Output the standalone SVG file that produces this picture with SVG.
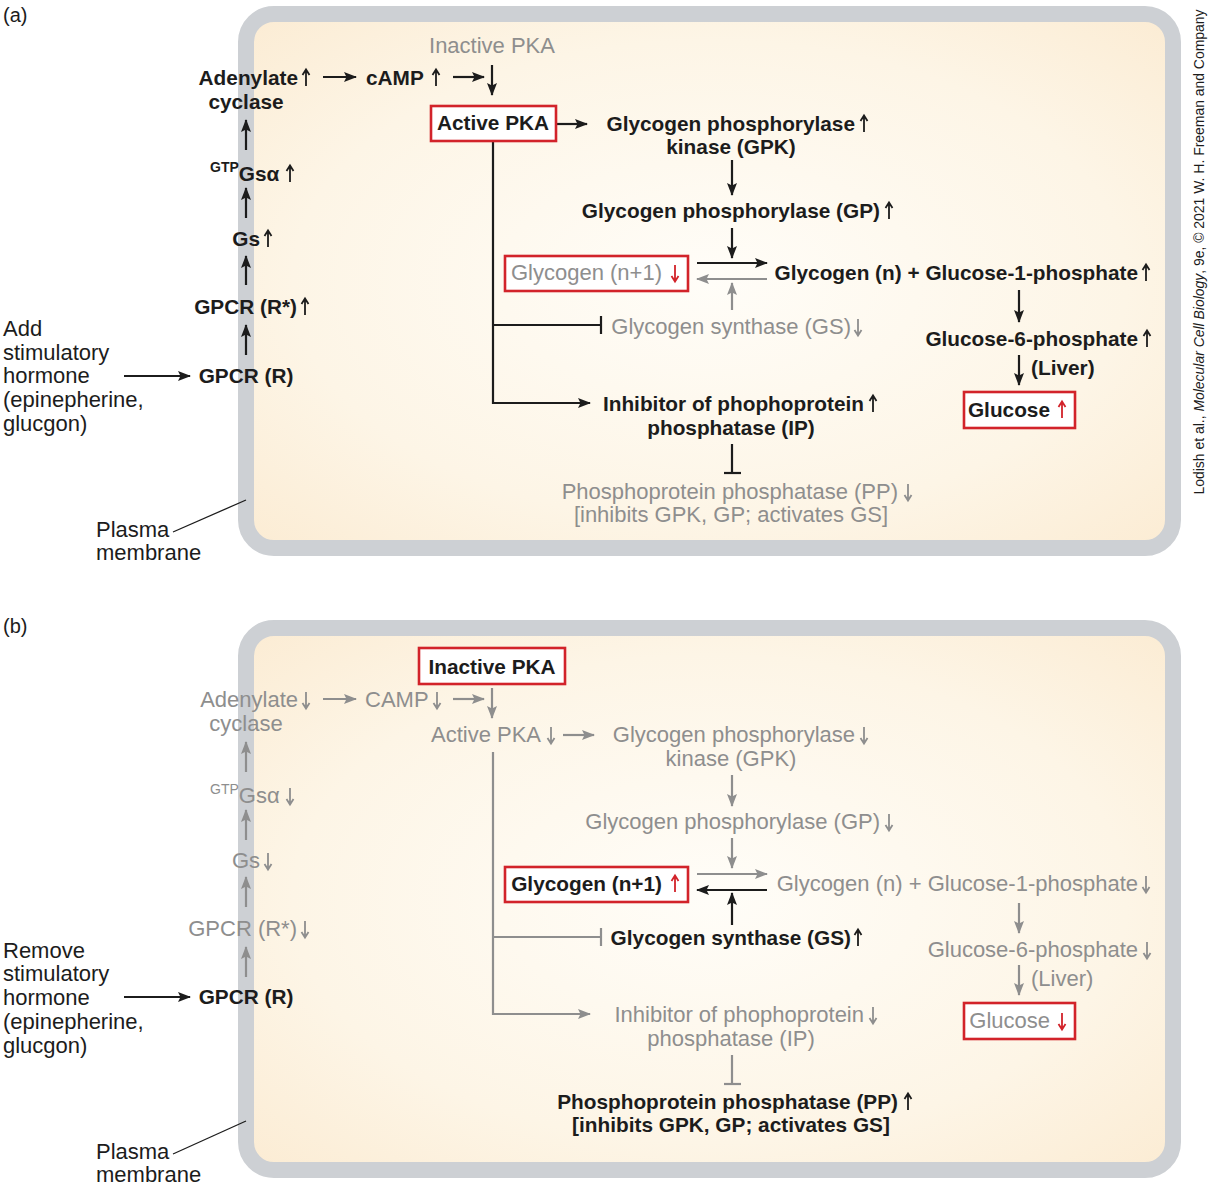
<svg xmlns="http://www.w3.org/2000/svg" xmlns:xlink="http://www.w3.org/1999/xlink" width="1209" height="1186" viewBox="0 0 1209 1186">
<style>
text{font-family:"Liberation Sans",Arial,sans-serif}
.b{font-weight:bold;font-size:20.8px;fill:#1c1c1c}
.g{font-size:22px;fill:#8e8e8e}
.k{font-size:22px;fill:#1c1c1c}
.lk{stroke:#1c1c1c;stroke-width:2.2;fill:none}
.lg{stroke:#8e8e8e;stroke-width:2.2;fill:none}
.box{fill:#fff;stroke:#d2232a;stroke-width:2.6}
.mem{stroke:#cdd0d4;stroke-width:16;fill:url(#cream)}
.ak{marker-end:url(#ab)}
.ag{marker-end:url(#ag)}
</style>
<defs>
<radialGradient id="cream" cx="0.5" cy="0.5" r="0.75">
<stop offset="0" stop-color="#fffdf8"/>
<stop offset="0.6" stop-color="#fdf5e6"/>
<stop offset="1" stop-color="#fbead0"/>
</radialGradient>
<marker id="ab" viewBox="0 0 13 11" refX="12" refY="5.5" markerWidth="13" markerHeight="11" markerUnits="userSpaceOnUse" orient="auto"><path d="M0,0.5 L13,5.5 L0,10.5 L2.5,5.5z" fill="#1c1c1c"/></marker>
<marker id="ag" viewBox="0 0 13 11" refX="12" refY="5.5" markerWidth="13" markerHeight="11" markerUnits="userSpaceOnUse" orient="auto"><path d="M0,0.5 L13,5.5 L0,10.5 L2.5,5.5z" fill="#8e8e8e"/></marker>
<path id="iu" d="M0,8V-7.5M-3.5,-3L0,-8.5L3.5,-3" fill="none" stroke-width="1.8"/>
<path id="id" d="M0,-8V7.5M-3.5,3L0,8.5L3.5,3" fill="none" stroke-width="1.8"/>
</defs>

<!-- Panel (a) -->
<g id="panel-a">
<text class="k" x="3" y="22" style="font-size:20px">(a)</text>
<rect id="membrane-a" class="mem" x="246" y="14" width="927" height="534" rx="28"/>
</g>

<!-- Panel (b) -->
<g id="panel-b">
<text class="k" x="3" y="633" style="font-size:20px">(b)</text>
<rect id="membrane-b" class="mem" x="246" y="628" width="927" height="542" rx="28"/>
</g>

<!-- Connectors -->
<g id="connectors">
<!-- a -->
<line class="lk ak" x1="323" y1="77" x2="356" y2="77"/>
<line class="lk ak" x1="453" y1="77" x2="484" y2="77"/>
<line class="lk ak" x1="492" y1="65" x2="492" y2="95"/>
<line class="lk ak" x1="246" y1="150" x2="246" y2="120"/>
<line class="lk ak" x1="246" y1="218" x2="246" y2="188"/>
<line class="lk ak" x1="246" y1="285" x2="246" y2="256"/>
<line class="lk ak" x1="246" y1="355" x2="246" y2="325"/>
<line class="lk ak" x1="124" y1="376" x2="190" y2="376"/>
<line class="lk ak" x1="557" y1="124" x2="587" y2="124"/>
<line class="lk ak" x1="732" y1="160" x2="732" y2="195"/>
<line class="lk ak" x1="732" y1="228" x2="732" y2="258"/>
<line class="lk ak" x1="697" y1="263" x2="767" y2="263"/>
<line class="lg ag" x1="767" y1="279" x2="697" y2="279"/>
<line class="lg ag" x1="732" y1="310" x2="732" y2="283"/>
<line class="lk ak" x1="1019" y1="290" x2="1019" y2="322"/>
<line class="lk ak" x1="1019" y1="355" x2="1019" y2="385"/>
<polyline class="lk ak" points="493,141 493,403 590,403"/>
<line class="lk" x1="493" y1="325" x2="601" y2="325"/>
<line class="lk" x1="601" y1="316" x2="601" y2="334"/>
<line class="lk" x1="732" y1="444" x2="732" y2="473"/>
<line class="lk" x1="724" y1="473" x2="741" y2="473"/>
<line stroke="#1c1c1c" stroke-width="1.3" x1="173" y1="532" x2="246" y2="500"/>
<!-- b -->
<line class="lg ag" x1="323" y1="699" x2="356" y2="699"/>
<line class="lg ag" x1="453" y1="699" x2="484" y2="699"/>
<line class="lg ag" x1="492" y1="688" x2="492" y2="718"/>
<line class="lg ag" x1="246" y1="772" x2="246" y2="742"/>
<line class="lg ag" x1="246" y1="840" x2="246" y2="810"/>
<line class="lg ag" x1="246" y1="907" x2="246" y2="877"/>
<line class="lg ag" x1="246" y1="977" x2="246" y2="947"/>
<line class="lk ak" x1="124" y1="997" x2="190" y2="997"/>
<line class="lg ag" x1="563" y1="735" x2="594" y2="735"/>
<line class="lg ag" x1="732" y1="775" x2="732" y2="806"/>
<line class="lg ag" x1="732" y1="838" x2="732" y2="868"/>
<line class="lg ag" x1="697" y1="874" x2="767" y2="874"/>
<line class="lk ak" x1="767" y1="890" x2="697" y2="890"/>
<line class="lk ak" x1="732" y1="925" x2="732" y2="893"/>
<line class="lg ag" x1="1019" y1="903" x2="1019" y2="933"/>
<line class="lg ag" x1="1019" y1="965" x2="1019" y2="995"/>
<polyline class="lg ag" points="493,752 493,1014 590,1014"/>
<line class="lg" x1="493" y1="937" x2="601" y2="937"/>
<line class="lg" x1="601" y1="928" x2="601" y2="946"/>
<line class="lg" x1="732" y1="1055" x2="732" y2="1084"/>
<line class="lg" x1="724" y1="1084" x2="741" y2="1084"/>
<line stroke="#1c1c1c" stroke-width="1.3" x1="173" y1="1154" x2="246" y2="1121"/>
</g>

<!-- Nodes panel (a) -->
<g id="a-inactive-pka"><text class="g" x="492" y="53" text-anchor="middle">Inactive PKA</text></g>
<g id="a-adenylate"><text class="b" x="298" y="85" text-anchor="end">Adenylate</text><use href="#iu" x="306" y="78" stroke="#1c1c1c"/><text class="b" x="246" y="109" text-anchor="middle">cyclase</text></g>
<g id="a-camp"><text class="b" x="366" y="85">cAMP</text><use href="#iu" x="436" y="78" stroke="#1c1c1c"/></g>
<g id="a-gsa"><text class="b" x="210" y="181"><tspan style="font-size:14px;font-weight:bold" dy="-9">GTP</tspan><tspan dy="9">Gsα</tspan></text><use href="#iu" x="290" y="174" stroke="#1c1c1c"/></g>
<g id="a-gs"><text class="b" x="260" y="246" text-anchor="end">Gs</text><use href="#iu" x="268" y="239" stroke="#1c1c1c"/></g>
<g id="a-gpcr-rstar"><text class="b" x="297" y="314" text-anchor="end">GPCR (R*)</text><use href="#iu" x="305" y="307" stroke="#1c1c1c"/></g>
<g id="a-gpcr-r"><text class="b" x="246" y="383" text-anchor="middle">GPCR (R)</text></g>
<g id="a-hormone"><text class="k"><tspan x="3" y="336">Add</tspan><tspan x="3" y="360">stimulatory</tspan><tspan x="3" y="383">hormone</tspan><tspan x="3" y="407">(epinepherine,</tspan><tspan x="3" y="431">glucgon)</tspan></text></g>
<g id="a-plasma"><text class="k"><tspan x="96" y="537">Plasma</tspan><tspan x="96" y="560">membrane</tspan></text></g>
<g id="a-active-pka"><rect class="box" x="431" y="106" width="125" height="35"/><text class="b" x="493" y="130" text-anchor="middle">Active PKA</text></g>
<g id="a-gpk"><text class="b" x="855" y="131" text-anchor="end">Glycogen phosphorylase</text><use href="#iu" x="864" y="124" stroke="#1c1c1c"/><text class="b" x="731" y="154" text-anchor="middle">kinase (GPK)</text></g>
<g id="a-gp"><text class="b" x="880" y="218" text-anchor="end">Glycogen phosphorylase (GP)</text><use href="#iu" x="889" y="211" stroke="#1c1c1c"/></g>
<g id="a-glycogen-n1"><rect class="box" x="505" y="256" width="183" height="35"/><text class="g" x="662" y="280" text-anchor="end">Glycogen (n+1)</text><use href="#id" x="675" y="273" stroke="#d2232a"/></g>
<g id="a-glycogen-n"><text class="b" x="1138" y="280" text-anchor="end">Glycogen (n) + Glucose-1-phosphate</text><use href="#iu" x="1146" y="273" stroke="#1c1c1c"/></g>
<g id="a-gs-synthase"><text class="g" x="851" y="334" text-anchor="end">Glycogen synthase (GS)</text><use href="#id" x="858" y="327" stroke="#8e8e8e"/></g>
<g id="a-g6p"><text class="b" x="1138" y="346" text-anchor="end">Glucose-6-phosphate</text><use href="#iu" x="1147" y="339" stroke="#1c1c1c"/><text class="b" x="1031" y="375">(Liver)</text></g>
<g id="a-glucose"><rect class="box" x="964" y="392" width="111" height="36"/><text class="b" x="1050" y="417" text-anchor="end">Glucose</text><use href="#iu" x="1062" y="410" stroke="#d2232a"/></g>
<g id="a-ip"><text class="b" x="864" y="411" text-anchor="end">Inhibitor of phophoprotein</text><use href="#iu" x="873" y="404" stroke="#1c1c1c"/><text class="b" x="731" y="435" text-anchor="middle">phosphatase (IP)</text></g>
<g id="a-pp"><text class="g" x="898" y="499" text-anchor="end">Phosphoprotein phosphatase (PP)</text><use href="#id" x="908" y="492" stroke="#8e8e8e"/><text class="g" x="731" y="522" text-anchor="middle">[inhibits GPK, GP; activates GS]</text></g>

<!-- Nodes panel (b) -->
<g id="b-inactive-pka"><rect class="box" x="419" y="648" width="146" height="36"/><text class="b" x="492" y="674" text-anchor="middle">Inactive PKA</text></g>
<g id="b-adenylate"><text class="g" x="298" y="707" text-anchor="end">Adenylate</text><use href="#id" x="306" y="700" stroke="#8e8e8e"/><text class="g" x="246" y="731" text-anchor="middle">cyclase</text></g>
<g id="b-camp"><text class="g" x="365" y="707">CAMP</text><use href="#id" x="437" y="700" stroke="#8e8e8e"/></g>
<g id="b-gsa"><text class="g" x="210" y="803"><tspan style="font-size:14px" dy="-9">GTP</tspan><tspan dy="9">Gsα</tspan></text><use href="#id" x="290" y="796" stroke="#8e8e8e"/></g>
<g id="b-gs"><text class="g" x="260" y="868" text-anchor="end">Gs</text><use href="#id" x="268" y="861" stroke="#8e8e8e"/></g>
<g id="b-gpcr-rstar"><text class="g" x="297" y="936" text-anchor="end">GPCR (R*)</text><use href="#id" x="305" y="929" stroke="#8e8e8e"/></g>
<g id="b-gpcr-r"><text class="b" x="246" y="1004" text-anchor="middle">GPCR (R)</text></g>
<g id="b-hormone"><text class="k"><tspan x="3" y="958">Remove</tspan><tspan x="3" y="981">stimulatory</tspan><tspan x="3" y="1005">hormone</tspan><tspan x="3" y="1029">(epinepherine,</tspan><tspan x="3" y="1053">glucgon)</tspan></text></g>
<g id="b-plasma"><text class="k"><tspan x="96" y="1159">Plasma</tspan><tspan x="96" y="1182">membrane</tspan></text></g>
<g id="b-active-pka"><text class="g" x="541" y="742" text-anchor="end">Active PKA</text><use href="#id" x="551" y="735" stroke="#8e8e8e"/></g>
<g id="b-gpk"><text class="g" x="855" y="742" text-anchor="end">Glycogen phosphorylase</text><use href="#id" x="864" y="735" stroke="#8e8e8e"/><text class="g" x="731" y="766" text-anchor="middle">kinase (GPK)</text></g>
<g id="b-gp"><text class="g" x="880" y="829" text-anchor="end">Glycogen phosphorylase (GP)</text><use href="#id" x="889" y="822" stroke="#8e8e8e"/></g>
<g id="b-glycogen-n1"><rect class="box" x="505" y="867" width="183" height="35"/><text class="b" x="662" y="891" text-anchor="end">Glycogen (n+1)</text><use href="#iu" x="675" y="884" stroke="#d2232a"/></g>
<g id="b-glycogen-n"><text class="g" x="1138" y="891" text-anchor="end">Glycogen (n) + Glucose-1-phosphate</text><use href="#id" x="1146" y="884" stroke="#8e8e8e"/></g>
<g id="b-gs-synthase"><text class="b" x="851" y="945" text-anchor="end">Glycogen synthase (GS)</text><use href="#iu" x="858" y="938" stroke="#1c1c1c"/></g>
<g id="b-g6p"><text class="g" x="1138" y="957" text-anchor="end">Glucose-6-phosphate</text><use href="#id" x="1147" y="950" stroke="#8e8e8e"/><text class="g" x="1031" y="986">(Liver)</text></g>
<g id="b-glucose"><rect class="box" x="964" y="1003" width="111" height="36"/><text class="g" x="1050" y="1028" text-anchor="end">Glucose</text><use href="#id" x="1062" y="1021" stroke="#d2232a"/></g>
<g id="b-ip"><text class="g" x="864" y="1022" text-anchor="end">Inhibitor of phophoprotein</text><use href="#id" x="873" y="1015" stroke="#8e8e8e"/><text class="g" x="731" y="1046" text-anchor="middle">phosphatase (IP)</text></g>
<g id="b-pp"><text class="b" x="898" y="1109" text-anchor="end">Phosphoprotein phosphatase (PP)</text><use href="#iu" x="908" y="1102" stroke="#1c1c1c"/><text class="b" x="731" y="1132" text-anchor="middle">[inhibits GPK, GP; activates GS]</text></g>

<g id="credit"><text transform="translate(1204,252) rotate(-90)" x="0" y="0" text-anchor="middle" style="font-size:14.5px;fill:#1c1c1c" textLength="485" lengthAdjust="spacingAndGlyphs">Lodish et al., <tspan font-style="italic">Molecular Cell Biology</tspan>, 9e, © 2021 W. H. Freeman and Company</text></g>
</svg>
